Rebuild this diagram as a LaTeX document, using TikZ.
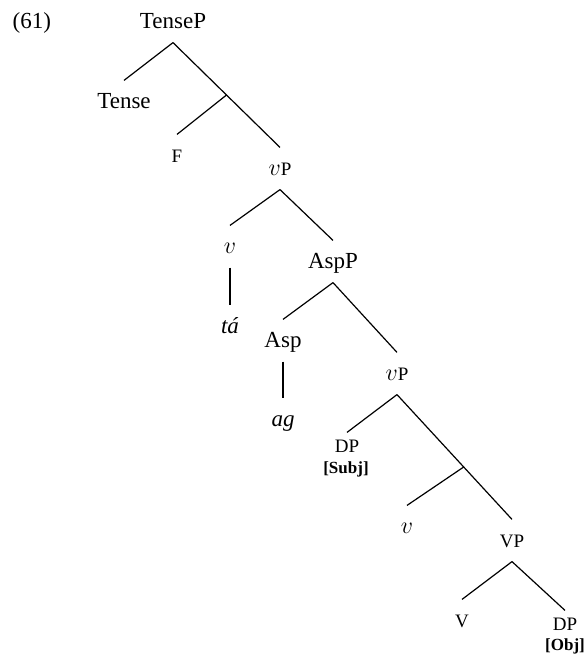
\documentclass[tikz,border=0pt]{standalone}
\usepackage{fontspec}
\setmainfont{Liberation Serif}
\usepackage{tikz}
\usetikzlibrary{calc}
\newcommand{\smcap}[1]{{\fontsize{9.5}{11}\selectfont #1}}
\newcommand{\feat}[1]{{\fontsize{8.5}{10}\selectfont\bfseries #1}}

\begin{document}
\begin{tikzpicture}[-,x=0.5pt,y=-0.5pt,line width=0.6pt]
	\tikzstyle{cat}=[anchor=base, inner xsep=0pt, inner ysep=4.5pt, text height=9pt, text depth=2.5pt, font=\fontsize{11.5}{13}\selectfont]
	\tikzstyle{cattop}=[cat, inner ysep=0.5pt]
	\tikzstyle{ft}=[anchor=base, inner sep=0pt]
	\useasboundingbox (0,0) rectangle (587,654);
		\node[cat, anchor=base west] (ex) at (12,28) {(61)};
		\node[cat]    (TP)   at (173,28)  {TenseP};
		\node[cat]    (T)    at (124,108) {Tense};
		\node[cat]    (F)    at (177,162) {\smcap{F}};
		\node[cat]    (vP)   at (280,175) {$v$\smcap{P}};
		\node[cat]    (v)    at (230,253) {$v$};
		\node[cat]    (ta)   at (230,333) {\textit{tá}};
		\node[cat]    (AspP) at (333,268) {AspP};
		\node[cat]    (Asp)  at (283,347) {Asp};
		\node[cat]    (ag)   at (283,426) {\textit{ag}};
		\node[cat]    (vPb)  at (397,380) {$v$\smcap{P}};
		\node[cattop] (DPs)  at (347,452) {\smcap{DP}};
		\node[ft]     (Subj) at (346,473) {\feat{[Subj]}};
		\node[cat]    (vb)   at (407,533) {$v$};
		\node[cat]    (VP)   at (512,547) {\smcap{VP}};
		\node[cat]    (V)    at (462,627) {\smcap{V}};
		\node[cattop] (DPo)  at (565,630) {\smcap{DP}};
		\node[ft]     (Obj)  at (565,650) {\feat{[Obj]}};
		% branching points with no label
		\coordinate (j1) at ($(TP.south)!0.5!(vP.north)$);
		\coordinate (j2) at ($(vPb.south)!0.58!(VP.north)$);
		\path
			(TP.south) edge (T.north)
			(TP.south) edge (vP.north)
			(j1) edge (F.north)
			(vP.south) edge (v.north)
			(vP.south) edge (AspP.north)
			(v.south) edge (ta.north)
			(AspP.south) edge (Asp.north)
			(AspP.south) edge (vPb.north)
			(Asp.south) edge (ag.north)
			(vPb.south) edge (DPs.north)
			(vPb.south) edge (VP.north)
			(j2) edge (vb.north)
			(VP.south) edge (V.north)
			(VP.south) edge (DPo.north);
\end{tikzpicture}
\end{document}
